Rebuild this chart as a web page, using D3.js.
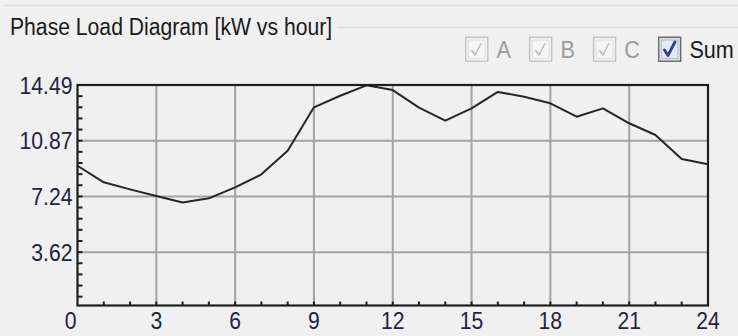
<!DOCTYPE html>
<html>
<head>
<meta charset="utf-8">
<script src="https://cdn.jsdelivr.net/npm/d3@7"></script>
<style>
  html, body { margin: 0; padding: 0; background: #f0f0f0; }
  svg { display: block; }
  text { font-family: "Liberation Sans", Arial, sans-serif; }
</style>
</head>
<body>
<svg id="chart" width="738" height="336"></svg>
<script>
// ---- data ----
const title = "Phase Load Diagram [kW vs hour]";
const hours = [0,1,2,3,4,5,6,7,8,9,10,11,12,13,14,15,16,17,18,19,20,21,22,23,24];
const sumKW = [9.24,8.16,7.70,7.27,6.85,7.12,7.83,8.68,10.22,13.04,13.79,14.47,14.16,13.02,12.17,12.97,14.04,13.73,13.30,12.43,12.97,12.00,11.24,9.68,9.33];
const yTickValues = [3.62, 7.24, 10.87, 14.49];
const xTickValues = [0,3,6,9,12,15,18,21,24];
const legendLabels = ["A","B","C","Sum"];
const legendEnabled = [false,false,false,true];

// ---- layout ----
const W = 738, H = 336;
const plot = { left: 77.5, right: 708, top: 85, bottom: 305.5 };
const yMin = 0.15, yMax = 14.49;
const condense = 0.9;

const svg = d3.select("#chart");
svg.append("rect").attr("width", W).attr("height", H).attr("fill", "#f0f0f0");

const x = d3.scaleLinear().domain([0, 24]).range([plot.left, plot.right]);
const y = d3.scaleLinear().domain([yMin, yMax]).range([plot.bottom, plot.top]);

function squeeze(sel, f) {
  sel.each(function () {
    const w = this.getComputedTextLength();
    d3.select(this).attr("textLength", w * (f || condense)).attr("lengthAdjust", "spacingAndGlyphs");
  });
  return sel;
}

// group box / separator lines
svg.append("line").attr("x1", 4).attr("x2", W).attr("y1", 5.5).attr("y2", 5.5)
  .attr("stroke", "#d6e0ea").attr("stroke-width", 1.5);

const titleText = svg.append("text").attr("x", 10).attr("y", 35)
  .attr("font-size", 23.5).attr("fill", "#1a1a1a").text(title);
squeeze(titleText);
svg.append("line").attr("x1", 10 + (+titleText.attr("textLength")) + 5).attr("x2", W)
  .attr("y1", 27.5).attr("y2", 27.5).attr("stroke", "#dcdcdc").attr("stroke-width", 1.5);

// legend checkboxes
const legend = svg.append("g");
let cursor = 465;
legendLabels.forEach((lab, i) => {
  const on = legendEnabled[i];
  const g = legend.append("g").attr("transform", `translate(${cursor},36.5)`);
  g.append("rect").attr("x", 0.75).attr("y", 0.75).attr("width", 22).attr("height", 24)
    .attr("fill", on ? "#dde2ea" : "#f4f4f4").attr("stroke", on ? "#6e6e6e" : "#c4c4c4").attr("stroke-width", 1.5);
  g.append("rect").attr("x", 3.5).attr("y", 3.5).attr("width", 16.5).attr("height", 18.5)
    .attr("fill", on ? "#e6e9ef" : "#f6f6f6").attr("stroke", on ? "#b4bac6" : "#dedede").attr("stroke-width", 1);
  g.append("path").attr("d", on ? "M6.5,13.5 L10,19 L17,5.5" : "M7,14 L10,18.5 L16,7")
    .attr("fill", "none").attr("stroke", on ? "#2b3d98" : "#bdbdbd").attr("stroke-width", on ? 2.8 : 1.6)
    .attr("stroke-linejoin", "round").attr("stroke-linecap", "round");
  const t = legend.append("text").attr("x", cursor + 31.5).attr("y", 58)
    .attr("font-size", 24).attr("fill", on ? "#1a1a1a" : "#9c9c9c").text(lab);
  squeeze(t);
  cursor = cursor + 31.5 + (+t.attr("textLength")) + 18;
});

// grid lines
const grid = svg.append("g");
grid.selectAll("line.vx").data(xTickValues.filter(v => v > 0 && v < 24)).join("line")
  .attr("x1", d => x(d)).attr("x2", d => x(d)).attr("y1", plot.top).attr("y2", plot.bottom)
  .attr("stroke", "#a3a3a3").attr("stroke-width", 2);
grid.selectAll("line.hy").data(yTickValues.filter(v => v < yMax)).join("line")
  .attr("x1", plot.left).attr("x2", plot.right).attr("y1", d => y(d)).attr("y2", d => y(d))
  .attr("stroke", "#a3a3a3").attr("stroke-width", 2);

// minor ticks (inward)
const yStep = yMax / 20;
const yMinor = d3.range(1, 20).map(k => k * yStep).filter(v => v > yMin);
svg.append("g").selectAll("line").data(yMinor).join("line")
  .attr("x1", plot.left).attr("x2", plot.left + 5).attr("y1", d => y(d)).attr("y2", d => y(d))
  .attr("stroke", "#1e1e1e").attr("stroke-width", 2);
svg.append("g").selectAll("line").data(d3.range(1, 24)).join("line")
  .attr("x1", d => x(d)).attr("x2", d => x(d)).attr("y1", plot.bottom).attr("y2", plot.bottom - 4)
  .attr("stroke", "#1e1e1e").attr("stroke-width", 2);

// data line
const line = d3.line().x((d, i) => x(hours[i])).y(d => y(d));
svg.append("path").datum(sumKW).attr("d", line)
  .attr("fill", "none").attr("stroke", "#262626").attr("stroke-width", 2).attr("stroke-linejoin", "round");

// frame
svg.append("rect").attr("x", plot.left).attr("y", plot.top)
  .attr("width", plot.right - plot.left).attr("height", plot.bottom - plot.top)
  .attr("fill", "none").attr("stroke", "#1e1e1e").attr("stroke-width", 2.2);

// y labels
const yl = svg.append("g").selectAll("text").data(yTickValues).join("text")
  .attr("x", plot.left - 5).attr("y", d => y(d) + 8.5)
  .attr("text-anchor", "end").attr("font-size", 23.5).attr("fill", "#23233a")
  .text(d => d.toFixed(2));
squeeze(yl);

// x labels
const xl = svg.append("g").selectAll("text").data(xTickValues).join("text")
  .attr("x", d => d === 0 ? x(d) - 1 : x(d)).attr("y", 328.5)
  .attr("text-anchor", d => d === 0 ? "end" : "middle").attr("font-size", 23.5).attr("fill", "#23233a")
  .text(d => String(d));
squeeze(xl);
</script>
</body>
</html>
